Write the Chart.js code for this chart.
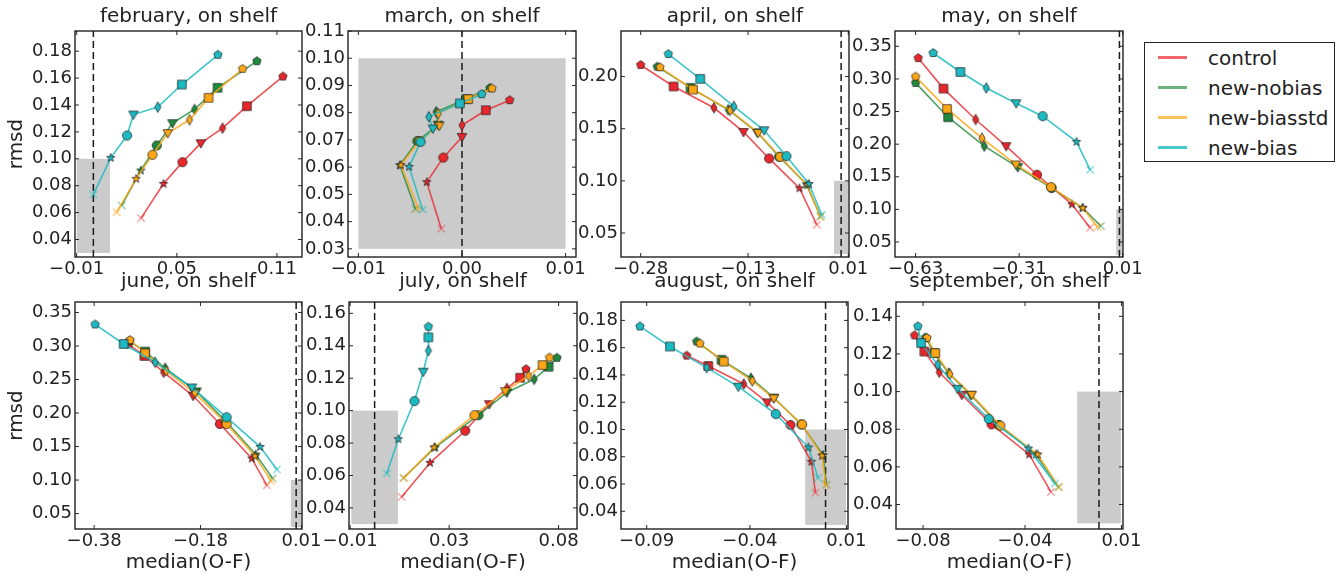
<!DOCTYPE html>
<html><head><meta charset="utf-8">
<script src="https://cdn.jsdelivr.net/npm/chart.js@4.4.1/dist/chart.umd.min.js"></script>
<style>
html,body{margin:0;padding:0;background:#fff;width:1337px;height:576px;overflow:hidden;position:relative;}
canvas.pc{position:absolute;}
#legend{position:absolute;left:1144px;top:42px;width:189px;height:118px;border:1px solid #222;background:#fff;font-family:'DejaVu Sans';font-size:20px;color:#222;}
#legend .ln{position:absolute;left:13px;width:29px;height:2.5px;}
#legend .tx{position:absolute;left:63px;height:30px;line-height:30px;white-space:nowrap;}
</style></head><body>
<div id="legend"></div>
<script>
// ---------- data (x = median(O-F), y = rmsd); point order: x, star, circle, tri-down, thin diamond, square, pentagon
const SERIES_NAMES = ['control','new-nobias','new-biasstd','new-bias'];

const febControl = [[0.0286,0.0559],[0.042,0.0814],[0.0534,0.0975],[0.0644,0.1116],[0.0774,0.1228],[0.092,0.1391],[0.1136,0.1612]];
const febNobias  = [[0.017,0.0653],[0.0284,0.0913],[0.038,0.1099],[0.0474,0.1265],[0.0606,0.1367],[0.0744,0.1528],[0.098,0.1726]];
const febBiasstd = [[0.014,0.0603],[0.0256,0.0851],[0.0354,0.103],[0.0446,0.1191],[0.0576,0.129],[0.069,0.1453],[0.0894,0.1669]];
const febBias    = [[0.0,0.0735],[0.0104,0.1007],[0.0202,0.1173],[0.024,0.1329],[0.0386,0.1384],[0.053,0.1552],[0.0746,0.1773]];

const marControl = [[-0.002,0.0374],[-0.0034,0.0545],[-0.0018,0.0635],[0.0,0.0711],[0.0,0.0754],[0.0023,0.0809],[0.0046,0.0846]];
const marNobias  = [[-0.0045,0.0447],[-0.006,0.0607],[-0.0043,0.0696],[-0.0023,0.0756],[-0.0025,0.0803],[0.0004,0.085],[0.0027,0.0891]];
const marBiasstd = [[-0.0042,0.0447],[-0.0059,0.0607],[-0.0041,0.0696],[-0.0022,0.0752],[-0.0023,0.0797],[0.0006,0.085],[0.0029,0.0889]];
const marBias    = [[-0.0038,0.0444],[-0.0051,0.0601],[-0.004,0.0693],[-0.0028,0.0742],[-0.0032,0.0785],[-0.0002,0.0834],[0.0019,0.0868]];

const aprControl = [[-0.034,0.0579],[-0.0582,0.0929],[-0.1006,0.1215],[-0.1363,0.1469],[-0.1777,0.1701],[-0.234,0.1905],[-0.28,0.2111]];
const aprNobias  = [[-0.0289,0.0659],[-0.0485,0.0967],[-0.0866,0.1231],[-0.1173,0.1466],[-0.1577,0.1682],[-0.2103,0.1892],[-0.2568,0.2095]];
const aprBiasstd = [[-0.0289,0.0653],[-0.0471,0.0958],[-0.0852,0.1231],[-0.1159,0.146],[-0.155,0.1676],[-0.207,0.1876],[-0.253,0.2089]];
const aprBias    = [[-0.0271,0.0675],[-0.0448,0.097],[-0.0764,0.1237],[-0.1075,0.1485],[-0.1498,0.1714],[-0.1968,0.1978],[-0.2414,0.2216]];

const mayControl = [[-0.0905,0.0719],[-0.1469,0.1077],[-0.2546,0.1531],[-0.35,0.1969],[-0.4444,0.2378],[-0.5438,0.2852],[-0.6218,0.3321]];
const mayNobias  = [[-0.0577,0.0745],[-0.1141,0.1026],[-0.2095,0.1327],[-0.3141,0.1648],[-0.4177,0.1969],[-0.5295,0.2413],[-0.63,0.2939]];
const mayBiasstd = [[-0.0679,0.073],[-0.1131,0.102],[-0.2115,0.1342],[-0.3202,0.1689],[-0.4249,0.2092],[-0.5326,0.2541],[-0.63,0.3036]];
const mayBias    = [[-0.0905,0.1607],[-0.1326,0.2036],[-0.2372,0.2429],[-0.3192,0.2628],[-0.4115,0.2862],[-0.4915,0.3107],[-0.5756,0.3398]];

const junControl = [[-0.0551,0.0921],[-0.0835,0.1322],[-0.1434,0.1837],[-0.1939,0.2257],[-0.2494,0.2609],[-0.2854,0.2851],[-0.315,0.3025]];
const junNobias  = [[-0.0444,0.1025],[-0.0759,0.1381],[-0.1321,0.1876],[-0.1876,0.2322],[-0.2463,0.2668],[-0.2841,0.2916],[-0.3137,0.3074]];
const junBiasstd = [[-0.0469,0.0985],[-0.0772,0.1356],[-0.1308,0.1837],[-0.1907,0.2297],[-0.2444,0.2629],[-0.2841,0.2891],[-0.3125,0.3089]];
const junBias    = [[-0.0362,0.1158],[-0.0677,0.1495],[-0.1308,0.1936],[-0.1958,0.2381],[-0.2652,0.2757],[-0.3245,0.303],[-0.3781,0.3322]];

const julControl = [[0.0116,0.0468],[0.0238,0.0678],[0.0389,0.0876],[0.0492,0.104],[0.0568,0.1137],[0.0625,0.1203],[0.065,0.1256]];
const julNobias  = [[0.0124,0.0585],[0.026,0.0773],[0.0446,0.0972],[0.0568,0.1112],[0.0685,0.1193],[0.0747,0.1271],[0.0783,0.1326]];
const julBiasstd = [[0.0126,0.0585],[0.0255,0.0773],[0.0429,0.0972],[0.0561,0.112],[0.0661,0.1215],[0.0721,0.1281],[0.0751,0.1328]];
const julBias    = [[0.0052,0.0612],[0.0102,0.0824],[0.0171,0.1059],[0.0209,0.124],[0.0231,0.137],[0.0231,0.1452],[0.0231,0.1518]];

const augControl = [[-0.005,0.0537],[-0.0069,0.0763],[-0.0172,0.1033],[-0.0286,0.1199],[-0.0401,0.1334],[-0.0575,0.1466],[-0.0681,0.1542]];
const augNobias  = [[0.0004,0.0596],[-0.0012,0.0812],[-0.0118,0.1037],[-0.0254,0.1234],[-0.0366,0.1376],[-0.051,0.1511],[-0.0632,0.1645]];
const augBiasstd = [[0.0001,0.0591],[-0.0017,0.0807],[-0.0115,0.1037],[-0.0254,0.1229],[-0.0359,0.1356],[-0.0499,0.1498],[-0.0616,0.1631]];
const augBias    = [[-0.0037,0.0645],[-0.0084,0.0868],[-0.0244,0.1113],[-0.0428,0.1314],[-0.0583,0.1454],[-0.0763,0.1609],[-0.091,0.1756]];

const sepControl = [[-0.022,0.0467],[-0.032,0.0666],[-0.0492,0.0826],[-0.0629,0.0983],[-0.0732,0.1103],[-0.08,0.1213],[-0.0845,0.1299]];
const sepNobias  = [[-0.0186,0.0494],[-0.0289,0.0666],[-0.0459,0.0823],[-0.0588,0.0983],[-0.0689,0.1098],[-0.0755,0.1205],[-0.0795,0.1288]];
const sepBiasstd = [[-0.0183,0.0491],[-0.028,0.0666],[-0.0452,0.0819],[-0.0583,0.0983],[-0.0683,0.1093],[-0.075,0.1205],[-0.0788,0.1285]];
const sepBias    = [[-0.0202,0.0512],[-0.0323,0.0698],[-0.0505,0.0855],[-0.0648,0.1015],[-0.0739,0.1142],[-0.0815,0.1258],[-0.083,0.1347]];

// axis ranges and ticks
const FEB_XLIM = [-0.011, 0.125],  FEB_YLIM = [0.027, 0.195];
const MAR_XLIM = [-0.011, 0.011],  MAR_YLIM = [0.027, 0.11];
const APR_XLIM = [-0.3075, 0.011], APR_YLIM = [0.027, 0.2437];
const MAY_XLIM = [-0.6936, 0.011], MAY_YLIM = [0.027, 0.3735];
const JUN_XLIM = [-0.416, 0.011],  JUN_YLIM = [0.027, 0.3656];
const JUL_XLIM = [-0.011, 0.0869], JUL_YLIM = [0.027, 0.167];
const AUG_XLIM = [-0.1003, 0.011], AUG_YLIM = [0.027, 0.1935];
const SEP_XLIM = [-0.093, 0.011],  SEP_YLIM = [0.027, 0.1476];

const FEB_XTICKS = [-0.01, 0.05, 0.11],        FEB_XLABELS = ['\u22120.01','0.05','0.11'];
const MAR_XTICKS = [-0.01, 0.0, 0.01],         MAR_XLABELS = ['\u22120.01','0.00','0.01'];
const APR_XTICKS = [-0.28, -0.13, 0.01],       APR_XLABELS = ['\u22120.28','\u22120.13','0.01'];
const MAY_XTICKS = [-0.63, -0.31, 0.01],       MAY_XLABELS = ['\u22120.63','\u22120.31','0.01'];
const JUN_XTICKS = [-0.38, -0.18, 0.01],       JUN_XLABELS = ['\u22120.38','\u22120.18','0.01'];
const JUL_XTICKS = [-0.0105, 0.032, 0.079],    JUL_XLABELS = ['\u22120.01','0.03','0.08'];
const AUG_XTICKS = [-0.0877, -0.0371, 0.0102], AUG_XLABELS = ['\u22120.09','\u22120.04','0.01'];
const SEP_XTICKS = [-0.0806, -0.0339, 0.0103], SEP_XLABELS = ['\u22120.08','\u22120.04','0.01'];

const FEB_YTICKS = [0.04,0.06,0.08,0.10,0.12,0.14,0.16,0.18];
const MAR_YTICKS = [0.03,0.04,0.05,0.06,0.07,0.08,0.09,0.10,0.11];
const APR_YTICKS = [0.05,0.10,0.15,0.20];
const MAY_YTICKS = [0.05,0.10,0.15,0.20,0.25,0.30,0.35];
const JUN_YTICKS = [0.05,0.10,0.15,0.20,0.25,0.30,0.35];
const JUL_YTICKS = [0.04,0.06,0.08,0.10,0.12,0.14,0.16];
const AUG_YTICKS = [0.04,0.06,0.08,0.10,0.12,0.14,0.16,0.18];
const SEP_YTICKS = [0.04,0.06,0.08,0.10,0.12,0.14];

const BOX_X = [-0.01, 0.01], BOX_Y = [0.03, 0.10];

// ---------- styles
const FONT = 'DejaVu Sans';
const TXT = '#222';
const MARK_FILL = ['#e8262c','#1f8a3c','#ffa616','#1cbac2'];
const LINE_COL  = ['rgba(232,38,44,0.8)','rgba(31,138,60,0.8)','rgba(255,166,22,0.85)','rgba(28,186,194,0.85)'];
const X_COL     = ['rgba(232,38,44,0.55)','rgba(31,138,60,0.6)','rgba(255,166,22,0.7)','rgba(28,186,194,0.7)'];
const LEG_COL   = ['rgba(232,38,44,0.7)','rgba(31,138,60,0.65)','rgba(255,166,22,0.7)','rgba(28,186,194,0.8)'];
const MARKERS = ['x','star','circle','tri','thin','square','pent'];

Chart.defaults.font.family = FONT;
Chart.defaults.color = TXT;

function markerCanvas(shape, fill, xcol) {
  const s = 16, c = document.createElement('canvas');
  c.width = s; c.height = s;
  const g = c.getContext('2d');
  g.translate(s/2, s/2);
  g.fillStyle = fill; g.strokeStyle = '#1a1a1a'; g.lineWidth = 0.7;
  g.beginPath();
  if (shape === 'x') {
    g.strokeStyle = xcol; g.lineWidth = 1.2;
    g.moveTo(-3.7,-3.7); g.lineTo(3.7,3.7); g.moveTo(-3.7,3.7); g.lineTo(3.7,-3.7);
    g.stroke(); return c;
  }
  if (shape === 'circle') g.arc(0,0,4.6,0,Math.PI*2);
  else if (shape === 'star') {
    for (let i=0;i<10;i++){ const r = i%2 ? 1.8 : 4.4; const a = -Math.PI/2 + i*Math.PI/5; g.lineTo(r*Math.cos(a), r*Math.sin(a)); }
    g.closePath();
  } else if (shape === 'tri') { g.moveTo(-4.8,-3.4); g.lineTo(4.8,-3.4); g.lineTo(0,4.9); g.closePath(); }
  else if (shape === 'thin') { g.moveTo(0,-5.3); g.lineTo(3.1,0); g.lineTo(0,5.3); g.lineTo(-3.1,0); g.closePath(); }
  else if (shape === 'square') g.rect(-4.3,-4.3,8.6,8.6);
  else if (shape === 'pent') {
    for (let i=0;i<5;i++){ const a = -Math.PI/2 + i*2*Math.PI/5; g.lineTo(4.4*Math.cos(a), 4.4*Math.sin(a)); }
    g.closePath();
  }
  g.fill(); g.stroke();
  return c;
}
const MARK_IMG = MARK_FILL.map((f,si) => MARKERS.map(m => markerCanvas(m, f, X_COL[si])));

const framePlugin = {
  id: 'frameBox',
  beforeDatasetsDraw(chart) {
    const {ctx, chartArea: a, scales: {x, y}} = chart;
    ctx.save();
    ctx.beginPath(); ctx.rect(a.left, a.top, a.width, a.height); ctx.clip();
    const bx0 = x.getPixelForValue(BOX_X[0]), bx1 = x.getPixelForValue(BOX_X[1]);
    const by0 = y.getPixelForValue(BOX_Y[0]), by1 = y.getPixelForValue(BOX_Y[1]);
    ctx.fillStyle = '#cbcbcb';
    ctx.fillRect(Math.min(bx0,bx1), Math.min(by0,by1), Math.abs(bx1-bx0), Math.abs(by1-by0));
    const zx = x.getPixelForValue(0);
    ctx.strokeStyle = '#1a1a1a'; ctx.lineWidth = 1.5; ctx.setLineDash([7,4]);
    ctx.beginPath(); ctx.moveTo(zx, a.bottom); ctx.lineTo(zx, a.top); ctx.stroke();
    ctx.restore();
  },
  afterDraw(chart) {
    const {ctx, chartArea: a, scales: {x, y}} = chart;
    ctx.save();
    ctx.strokeStyle = '#262626'; ctx.lineWidth = 1;
    ctx.beginPath();
    x.ticks.forEach(t => { const p = x.getPixelForValue(t.value);
      ctx.moveTo(p, a.bottom); ctx.lineTo(p, a.bottom-4); ctx.moveTo(p, a.top); ctx.lineTo(p, a.top+4); });
    y.ticks.forEach(t => { const p = y.getPixelForValue(t.value);
      ctx.moveTo(a.left, p); ctx.lineTo(a.left+4, p); ctx.moveTo(a.right, p); ctx.lineTo(a.right-4, p); });
    ctx.stroke();
    ctx.lineWidth = 1.4; ctx.strokeStyle = '#222';
    ctx.strokeRect(a.left, a.top, a.width, a.height);
    ctx.restore();
  }
};

const PANELS = [
  {name:'february',  series:[febControl,febNobias,febBiasstd,febBias], xlim:FEB_XLIM, ylim:FEB_YLIM, xt:FEB_XTICKS, xl:FEB_XLABELS, yt:FEB_YTICKS, left:75,  top:31,  w:227, h:226, row:0, col:0},
  {name:'march',     series:[marControl,marNobias,marBiasstd,marBias], xlim:MAR_XLIM, ylim:MAR_YLIM, xt:MAR_XTICKS, xl:MAR_XLABELS, yt:MAR_YTICKS, left:348, top:31,  w:228, h:226, row:0, col:1},
  {name:'april',     series:[aprControl,aprNobias,aprBiasstd,aprBias], xlim:APR_XLIM, ylim:APR_YLIM, xt:APR_XTICKS, xl:APR_XLABELS, yt:APR_YTICKS, left:621, top:31,  w:228, h:226, row:0, col:2},
  {name:'may',       series:[mayControl,mayNobias,mayBiasstd,mayBias], xlim:MAY_XLIM, ylim:MAY_YLIM, xt:MAY_XTICKS, xl:MAY_XLABELS, yt:MAY_YTICKS, left:895, top:31,  w:228, h:226, row:0, col:3},
  {name:'june',      series:[junControl,junNobias,junBiasstd,junBias], xlim:JUN_XLIM, ylim:JUN_YLIM, xt:JUN_XTICKS, xl:JUN_XLABELS, yt:JUN_YTICKS, left:75,  top:302, w:227, h:227, row:1, col:0},
  {name:'july',      series:[julControl,julNobias,julBiasstd,julBias], xlim:JUL_XLIM, ylim:JUL_YLIM, xt:JUL_XTICKS, xl:JUL_XLABELS, yt:JUL_YTICKS, left:349, top:302, w:228, h:227, row:1, col:1},
  {name:'august',    series:[augControl,augNobias,augBiasstd,augBias], xlim:AUG_XLIM, ylim:AUG_YLIM, xt:AUG_XTICKS, xl:AUG_XLABELS, yt:AUG_YTICKS, left:621, top:302, w:227, h:227, row:1, col:2},
  {name:'september', series:[sepControl,sepNobias,sepBiasstd,sepBias], xlim:SEP_XLIM, ylim:SEP_YLIM, xt:SEP_XTICKS, xl:SEP_XLABELS, yt:SEP_YTICKS, left:896, top:302, w:227, h:227, row:1, col:3},
];

const ML = 75, MR = 25;
PANELS.forEach(p => {
  const pb = p.row === 0 ? 2 : 8;
  const titleH = 24 + pb;
  const bottomH = p.row === 0 ? 30 : 50;
  const cv = document.createElement('canvas');
  cv.className = 'pc';
  cv.width = ML + p.w + MR; cv.height = titleH + p.h + bottomH;
  cv.style.width = cv.width + 'px'; cv.style.height = cv.height + 'px';
  cv.style.left = (p.left - ML) + 'px'; cv.style.top = (p.top - titleH) + 'px';
  document.body.appendChild(cv);
  new Chart(cv, {
    type: 'scatter',
    data: {
      datasets: p.series.map((pts, si) => ({
        label: SERIES_NAMES[si],
        data: pts.map(([x, y]) => ({x, y})),
        showLine: true,
        borderColor: LINE_COL[si],
        borderWidth: 1.6,
        backgroundColor: MARK_FILL[si],
        pointStyle: MARK_IMG[si],
        pointRadius: 5, pointHoverRadius: 5,
        order: 4 - si
      }))
    },
    options: {
      responsive: false, animation: false, devicePixelRatio: 1, events: [],
      layout: {padding: {left: 0, right: MR, top: 0, bottom: 0}},
      plugins: {
        legend: {display: false}, tooltip: {enabled: false},
        title: {display: true, text: p.name + ', on shelf', fullSize: false, color: TXT,
                font: {family: FONT, size: 20, weight: 'normal'}, padding: {top: 0, bottom: pb}}
      },
      scales: {
        x: {
          type: 'linear', min: p.xlim[0], max: p.xlim[1],
          afterBuildTicks: s => { s.ticks = p.xt.map(v => ({value: v})); },
          afterFit: s => { s.height = bottomH; s.paddingLeft = 0; s.paddingRight = 0; },
          ticks: {autoSkip: false, maxRotation: 0, minRotation: 0, padding: 2, color: TXT,
                  font: {family: FONT, size: 18}, callback: (v, i) => p.xl[i]},
          grid: {display: false, drawTicks: false}, border: {display: false},
          title: {display: p.row === 1, text: 'median(O-F)', color: TXT,
                  font: {family: FONT, size: 20}, padding: {top: 0, bottom: 4}}
        },
        y: {
          type: 'linear', min: p.ylim[0], max: p.ylim[1],
          afterBuildTicks: s => { s.ticks = p.yt.map(v => ({value: v})); },
          afterFit: s => { s.width = ML; s.paddingTop = 0; s.paddingBottom = 0; },
          ticks: {autoSkip: false, padding: 3, color: TXT, font: {family: FONT, size: 18},
                  callback: v => Number(v).toFixed(2)},
          grid: {display: false, drawTicks: false}, border: {display: false},
          title: {display: p.col === 0, text: 'rmsd', color: TXT,
                  font: {family: FONT, size: 20}, padding: {top: 5, bottom: 0}}
        }
      }
    },
    plugins: [framePlugin]
  });
});

// legend
const leg = document.getElementById('legend');
SERIES_NAMES.forEach((n, i) => {
  const cy = 14.5 + 30 * i;
  const l = document.createElement('div'); l.className = 'ln';
  l.style.top = (cy - 1.25) + 'px'; l.style.background = LEG_COL[i];
  const t = document.createElement('div'); t.className = 'tx';
  t.style.top = (cy - 15) + 'px'; t.textContent = n;
  leg.appendChild(l); leg.appendChild(t);
});
</script>
</body></html>
